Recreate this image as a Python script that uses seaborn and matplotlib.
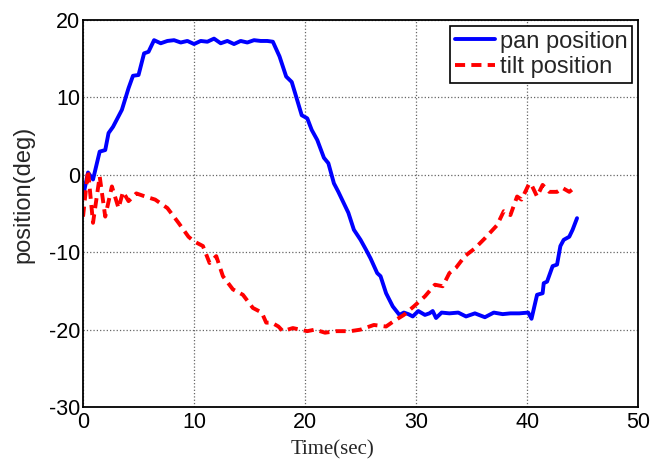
import matplotlib
matplotlib.use("Agg")
import matplotlib.pyplot as plt
import seaborn as sns
import pandas as pd

pan_t = [0.0, 0.45, 0.9, 1.5, 2.0, 2.3, 2.7, 3.5, 4.1, 4.5, 5.0, 5.5, 5.9, 6.4, 7.0, 7.6, 8.2, 8.8,
         9.4, 10.0, 10.6, 11.2, 11.8, 12.4, 13.0, 13.6, 14.2, 14.8, 15.4, 16.0, 16.6, 17.1, 17.7,
         18.3, 18.8, 19.2, 19.7, 20.2, 20.6, 21.1, 21.7, 22.1, 22.6, 23.0, 23.9, 24.4, 25.0, 25.5,
         25.9, 26.5, 26.8, 27.3, 27.9, 28.5, 28.9, 29.3, 29.7, 30.2, 30.8, 31.2, 31.5, 31.8, 32.3,
         33.0, 33.8, 34.5, 35.3, 36.2, 37.0, 37.8, 38.5, 39.3, 40.1, 40.4, 40.9, 41.4, 41.5, 41.8,
         42.3, 42.7, 43.0, 43.3, 43.8, 44.1, 44.5]
pan_y = [-2.8, 0.3, -0.6, 3.0, 3.2, 5.4, 6.2, 8.4, 11.2, 12.8, 12.9, 15.7, 15.9, 17.4, 17.0, 17.3,
         17.4, 17.1, 17.3, 16.9, 17.3, 17.2, 17.6, 17.0, 17.3, 16.9, 17.3, 17.1, 17.4, 17.3, 17.3,
         17.2, 15.3, 12.7, 12.0, 10.1, 7.7, 7.3, 5.8, 4.5, 2.2, 1.5, -1.1, -2.2, -4.9, -7.1, -8.4,
         -9.7, -10.8, -12.7, -13.1, -15.3, -17.0, -18.1, -17.8, -18.0, -18.3, -17.6, -18.1, -17.9,
         -17.6, -18.5, -17.8, -17.9, -17.8, -18.3, -17.9, -18.4, -17.8, -18.0, -17.9, -17.9, -17.8,
         -18.6, -15.5, -15.3, -14.0, -13.8, -11.8, -11.6, -9.2, -8.4, -8.0, -7.1, -5.6]

tilt_t = [0.0, 0.45, 0.9, 1.5, 2.0, 2.6, 3.2, 3.6, 4.1, 4.8, 5.6, 6.5, 7.6, 8.6, 9.5, 10.0, 10.8,
          11.4, 12.0, 12.6, 13.5, 14.4, 15.3, 16.1, 16.5, 17.0, 17.6, 18.0, 18.9, 20.2, 20.9, 21.8,
          22.8, 24.1, 25.0, 26.2, 27.3, 28.0, 28.9, 29.8, 30.8, 31.7, 32.4, 33.0, 33.6, 34.4, 35.3,
          36.2, 37.3, 37.9, 38.5, 39.1, 39.5, 40.2, 40.4, 40.9, 41.4, 42.0, 42.7, 43.2, 43.8, 44.4]
tilt_y = [-5.4, 0.6, -6.2, -0.2, -5.4, -1.5, -4.3, -2.2, -3.4, -2.4, -2.8, -3.2, -4.3, -6.2, -8.0,
          -8.6, -9.2, -11.4, -10.5, -13.1, -14.8, -15.5, -17.2, -17.8, -19.1, -19.1, -19.6, -20.2,
          -19.8, -20.2, -20.0, -20.4, -20.2, -20.2, -20.0, -19.4, -19.6, -18.9, -18.1, -17.0, -15.7,
          -14.2, -14.4, -12.7, -12.0, -10.5, -9.5, -8.2, -6.5, -4.7, -5.2, -2.8, -3.2, -1.1, -1.3,
          -2.8, -1.3, -2.2, -2.2, -1.7, -2.2, -1.5]

x_ticks = [0, 10, 20, 30, 40, 50]
y_ticks = [-30, -20, -10, 0, 10, 20]

sns.set_style("white")
plt.rcParams['font.family'] = ['Liberation Sans', 'DejaVu Sans']
plt.rcParams['axes.unicode_minus'] = False

fig = plt.figure(figsize=(6.6, 4.59), dpi=100)
ax = fig.add_axes([0.1258, 0.1133, 0.841, 0.843])

pan_df = pd.DataFrame({"t": pan_t, "y": pan_y})
tilt_df = pd.DataFrame({"t": tilt_t, "y": tilt_y})
sns.lineplot(data=pan_df, x="t", y="y", ax=ax, color="#0000ff", lw=2.8,
             label="pan position", sort=False, estimator=None)
sns.lineplot(data=tilt_df, x="t", y="y", ax=ax, color="#ff0000", lw=2.8,
             linestyle=(0, (2.6, 1.6)), label="tilt position", sort=False, estimator=None)

ax.set_xlim(0, 50)
ax.set_ylim(-30, 20)
ax.set_xticks(x_ticks)
ax.set_yticks(y_ticks)
ax.grid(True, color="#666666", linestyle=":", linewidth=0.9)
ax.tick_params(axis="both", direction="in", length=3, labelsize=15.5, colors="black")
ax.tick_params(axis="x", pad=3.5)
ax.tick_params(axis="y", pad=2)
for s in ax.spines.values():
    s.set_color("black")
    s.set_linewidth(1.3)

ax.set_xlabel("Time(sec)", family="Liberation Serif", fontsize=15)
ax.xaxis.set_label_coords(0.45, -0.085)
ax.set_ylabel("position(deg)", fontsize=17)
ax.yaxis.set_label_coords(-0.088, 0.55)

leg = ax.legend(loc="upper right", fontsize=17, frameon=True, fancybox=False,
                edgecolor="black", framealpha=1, borderpad=0.2, handlelength=1.7,
                handletextpad=0.2, labelspacing=0.15, borderaxespad=0.25)
leg.get_frame().set_linewidth(1.2)

fig.savefig("out.png", dpi=100)
